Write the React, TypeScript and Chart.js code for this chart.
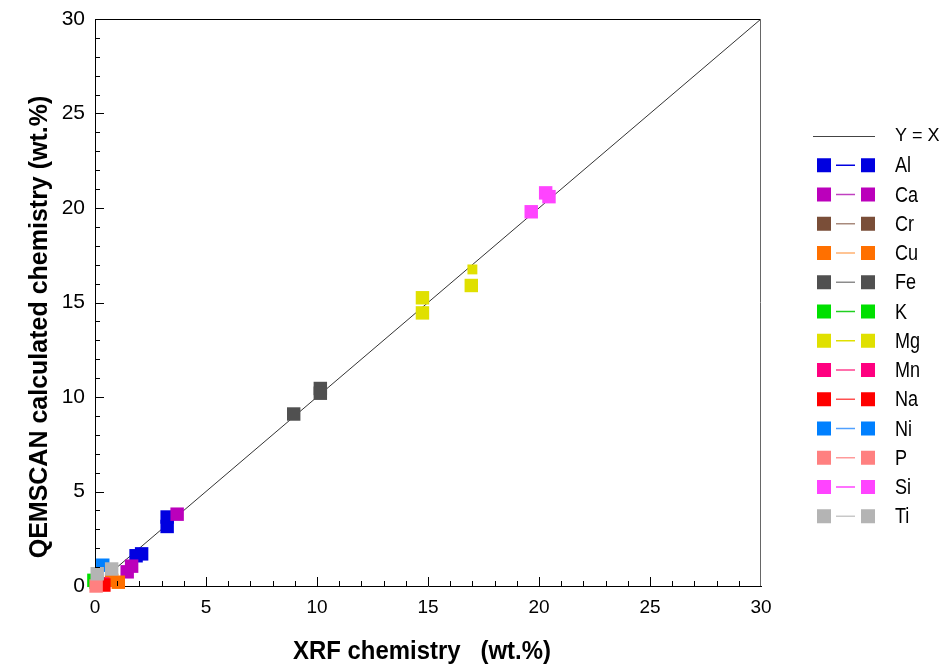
import React, { useEffect, useRef } from "react";
import { Chart, registerables } from "chart.js";

Chart.register(...registerables);

const elements = ["Al", "Ca", "Cr", "Cu", "Fe", "K", "Mg", "Mn", "Na", "Ni", "P", "Si", "Ti"];
const markerColors = ["#0000E0", "#BB00BB", "#7A4E38", "#FF7000", "#505050", "#00E000", "#E0E000", "#FF0080", "#FF0000", "#0080FF", "#FF8080", "#FF44FF", "#B4B4B4"];
const lineColors = ["#0000E0", "#C040C0", "#A88A7C", "#FFB070", "#8C8C8C", "#20D020", "#E0E000", "#FF4090", "#FF5050", "#50A0FF", "#FF9A9A", "#FF44FF", "#C8C8C8"];

// XRF (x) and QEMSCAN (y) values per element, wt.%
const xrfAl = [1.85, 2.1, 3.25, 3.25];
const qemAl = [1.6, 1.7, 3.65, 3.15];
const xrfCa = [1.45, 1.65, 3.7];
const qemCa = [0.75, 1.05, 3.8];
const xrfCr = [0.15];
const qemCr = [0.1];
const xrfCu = [0.75, 1.05];
const qemCu = [0.3, 0.2];
const xrfFe = [8.95, 10.15, 10.15];
const qemFe = [9.1, 10.45, 10.2];
const xrfK = [-0.05, 0.05];
const qemK = [0.3, 0.2];
const xrfMg = [14.75, 14.75, 16.95, 17.0];
const qemMg = [15.25, 14.45, 15.9, 16.75];
const xrfMn = [0.35];
const qemMn = [0.1];
const xrfNa = [0.4];
const qemNa = [0.05];
const xrfNi = [0.35];
const qemNi = [1.1];
const xrfP = [0.05];
const qemP = [0.0];
const xrfSi = [19.65, 20.3, 20.45];
const qemSi = [19.8, 20.8, 20.6];
const xrfTi = [0.1, 0.75];
const qemTi = [0.65, 0.9];

const xrfValues = [xrfAl, xrfCa, xrfCr, xrfCu, xrfFe, xrfK, xrfMg, xrfMn, xrfNa, xrfNi, xrfP, xrfSi, xrfTi];
const qemValues = [qemAl, qemCa, qemCr, qemCu, qemFe, qemK, qemMg, qemMn, qemNa, qemNi, qemP, qemSi, qemTi];

const identityLine = [0, 30];
const axisMin = 0;
const axisMax = 30;
const majorStep = 5;
const minorStep = 1;

const xTitle = "XRF chemistry   (wt.%)";
const yTitle = "QEMSCAN calculated chemistry (wt.%)";
const identityLabel = "Y = X";

const FONT = "'Liberation Sans', Arial, sans-serif";

const decorPlugin = {
  id: "decor",
  afterDraw(chart: any) {
    const ctx = chart.ctx as CanvasRenderingContext2D;
    const xs = chart.scales.x;
    const ys = chart.scales.y;
    const area = chart.chartArea;
    ctx.save();
    // frame top and right
    ctx.lineWidth = 1;
    ctx.strokeStyle = "#000";
    ctx.beginPath();
    ctx.moveTo(area.left, area.top + 0.5);
    ctx.lineTo(area.right, area.top + 0.5);
    ctx.stroke();
    ctx.strokeStyle = "#666";
    ctx.beginPath();
    ctx.moveTo(area.right - 0.5, area.top);
    ctx.lineTo(area.right - 0.5, area.bottom);
    ctx.stroke();
    // inward ticks
    ctx.strokeStyle = "#000";
    ctx.beginPath();
    for (let v = axisMin + minorStep; v < axisMax; v += minorStep) {
      const major = Math.abs(v / majorStep - Math.round(v / majorStep)) < 1e-6;
      const len = major ? 9 : 5;
      const px = Math.round(xs.getPixelForValue(v)) + 0.5;
      ctx.moveTo(px, area.bottom);
      ctx.lineTo(px, area.bottom - len);
      const py = Math.round(ys.getPixelForValue(v)) + 0.5;
      ctx.moveTo(area.left, py);
      ctx.lineTo(area.left + len, py);
    }
    ctx.stroke();

    // axis titles
    ctx.fillStyle = "#000";
    ctx.textAlign = "center";
    ctx.textBaseline = "middle";
    ctx.save();
    ctx.font = `bold 26px ${FONT}`;
    ctx.translate(422, 652);
    ctx.scale(0.92, 1);
    ctx.fillText(xTitle, 0, 0);
    ctx.restore();
    ctx.save();
    ctx.font = `bold 25px ${FONT}`;
    ctx.translate(40, 327);
    ctx.rotate(-Math.PI / 2);
    ctx.fillText(yTitle, 0, 0);
    ctx.restore();

    // legend
    const lx1 = 813;
    const lx2 = 875;
    const tx = 895;
    const y0 = 136;
    const step = 29.25;
    ctx.font = `18px ${FONT}`;
    ctx.textAlign = "left";
    ctx.strokeStyle = "#444";
    ctx.lineWidth = 1;
    ctx.beginPath();
    ctx.moveTo(lx1, y0 + 0.5);
    ctx.lineTo(lx2, y0 + 0.5);
    ctx.stroke();
    ctx.fillText(identityLabel, tx, y0);
    ctx.font = `19px ${FONT}`;
    elements.forEach((el, i) => {
      const y = y0 + step * (i + 1);
      ctx.strokeStyle = lineColors[i];
      ctx.lineWidth = 1.5;
      ctx.beginPath();
      ctx.moveTo(836, y);
      ctx.lineTo(855, y);
      ctx.stroke();
      ctx.fillStyle = markerColors[i];
      ctx.fillRect(817, y - 7, 14, 14);
      ctx.fillRect(861, y - 7, 14, 14);
      ctx.fillStyle = "#000";
      ctx.save();
      ctx.translate(tx, y + 1);
      ctx.scale(0.95, 1.15);
      ctx.fillText(el, 0, 0);
      ctx.restore();
    });
    ctx.restore();
  },
};

export default function App() {
  const ref = useRef<HTMLCanvasElement | null>(null);
  useEffect(() => {
    if (!ref.current) return;
    const datasets: any[] = elements.map((el, i) => ({
      type: "scatter",
      label: el,
      data: xrfValues[i].map((x, j) => ({ x, y: qemValues[i][j] })),
      backgroundColor: markerColors[i],
      borderColor: markerColors[i],
      pointStyle: "rect",
      pointRadius: el === "Mg" ? [9.5, 9.5, 9.5, 7] : 9.5,
      pointBorderWidth: 0,
      showLine: false,
      clip: false,
      order: elements.length - 1 - i,
    }));
    datasets.push({
      type: "line",
      label: identityLabel,
      data: identityLine.map((v) => ({ x: v, y: v })),
      borderColor: "#333",
      borderWidth: 1,
      pointRadius: 0,
      order: 100,
    });
    const chart = new Chart(ref.current, {
      type: "scatter",
      data: { datasets },
      options: {
        animation: false,
        responsive: false,
        devicePixelRatio: 1,
        layout: { padding: { left: 0, top: 19, right: 180, bottom: 0 } },
        plugins: { legend: { display: false }, tooltip: { enabled: false } },
        scales: {
          x: {
            type: "linear",
            min: axisMin,
            max: axisMax,
            afterFit: (s: any) => {
              s.height = 81;
              s.paddingLeft = 0;
              s.paddingRight = 0;
            },
            ticks: { stepSize: majorStep, padding: 10, color: "#000", font: { family: FONT, size: 19 } },
            grid: { display: false, drawTicks: false },
            border: { display: true, color: "#000", width: 1 },
          },
          y: {
            type: "linear",
            min: axisMin,
            max: axisMax,
            afterFit: (s: any) => {
              s.width = 95;
              s.paddingTop = 0;
              s.paddingBottom = 0;
            },
            ticks: { stepSize: majorStep, padding: 10, color: "#000", font: { family: FONT, size: 21 } },
            grid: { display: false, drawTicks: false },
            border: { display: true, color: "#000", width: 1 },
          },
        },
      },
      plugins: [decorPlugin],
    });
    return () => chart.destroy();
  }, []);
  return (
    <div style={{ position: "fixed", left: 0, top: 0, width: 941, height: 667, background: "#fff" }}>
      <canvas ref={ref} width={941} height={667} style={{ display: "block" }} />
    </div>
  );
}
